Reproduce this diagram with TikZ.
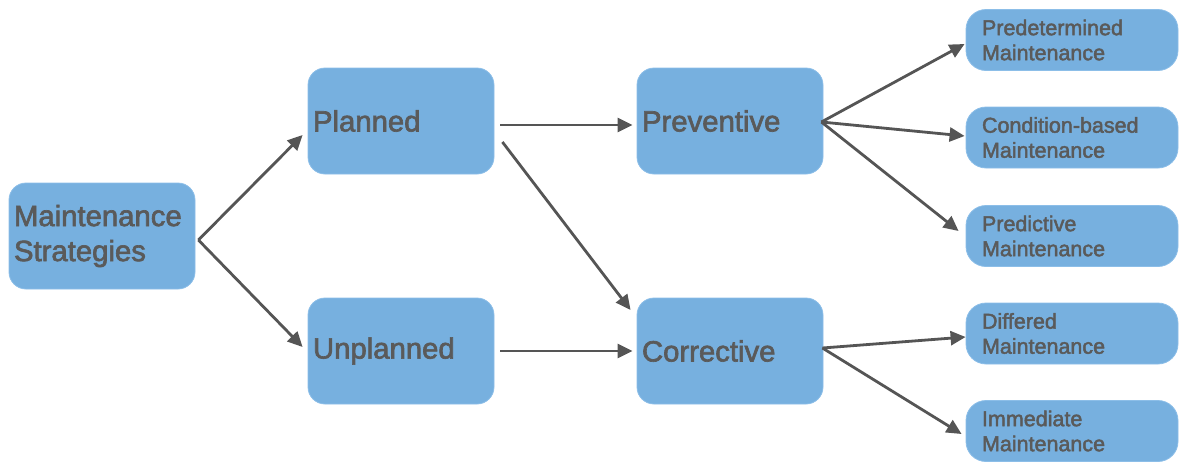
\documentclass[tikz,border=0pt]{standalone}
\usepackage{fontspec}
\setmainfont{Liberation Sans}
\newfontfamily\medfont{Liberation Sans}[RawFeature={embolden=2.2}]
\usetikzlibrary{arrows.meta}
\definecolor{boxfill}{RGB}{119,176,223}
\definecolor{boxedge}{RGB}{140,190,232}
\definecolor{txt}{RGB}{90,90,90}
\definecolor{arrcol}{RGB}{85,85,85}
\begin{document}
\begin{tikzpicture}[x=1pt,y=1pt,
  bigbox/.style={fill=boxfill, draw=boxedge, line width=0.8pt, rounded corners=17pt,
    text=txt, align=left, text width=176pt, inner xsep=5pt, inner ysep=0pt,
    minimum height=106pt, font=\medfont\fontsize{29.3}{35}\selectfont},
  smallbox/.style={fill=boxfill, draw=boxedge, line width=0.8pt, rounded corners=20pt,
    text=txt, align=left, text width=180pt, inner xsep=16pt, inner ysep=0pt,
    minimum height=61pt, font=\medfont\fontsize{21.5}{25}\selectfont},
  arr/.style={draw=arrcol, line width=2.8pt, -{Triangle[length=15pt,width=14pt]}}]
\useasboundingbox (0,0) rectangle (1179,-464);

\node[bigbox] (ms) at (102,-236) {Maintenance\\Strategies};
\node[bigbox] (planned) at (401,-121) {Planned};
\node[bigbox] (unplanned) at (401,-351) {Unplanned};
\node[bigbox] (preventive) at (730,-121) {Preventive};
\node[bigbox] (corrective) at (730,-351) {Corrective};

\node[smallbox] (pm) at (1072,-40) {Predetermined\\Maintenance};
\node[smallbox] (cb) at (1072,-137.5) {Condition-based\\Maintenance};
\node[smallbox] (pr) at (1072,-236) {Predictive\\Maintenance};
\node[smallbox] (dm) at (1072,-333.5) {Differed\\Maintenance};
\node[smallbox] (im) at (1072,-431) {Immediate\\Maintenance};

\draw[arr] ([xshift=3pt,yshift=-4pt]ms.east) -- ([xshift=-5pt,yshift=-14pt]planned.west);
\draw[arr] ([xshift=3pt,yshift=-4pt]ms.east) -- ([xshift=-5pt,yshift=4pt]unplanned.west);
\draw[arr] ([xshift=6pt,yshift=-4pt]planned.east) -- ([xshift=-4pt,yshift=-4pt]preventive.west);
\draw[arr] ([xshift=8pt,yshift=-21pt]planned.east) -- ([xshift=-6pt,yshift=41pt]corrective.west);
\draw[arr] ([xshift=6pt]unplanned.east) -- ([xshift=-4pt]corrective.west);

\draw[arr] ([xshift=-2pt,yshift=-1pt]preventive.east) -- ([xshift=-1pt,yshift=-4pt]pm.west);
\draw[arr] ([xshift=-2pt,yshift=-1pt]preventive.east) -- ([xshift=-1pt,yshift=1.5pt]cb.west);
\draw[arr] ([xshift=-2pt,yshift=-1pt]preventive.east) -- ([xshift=-7pt,yshift=5pt]pr.west);
\draw[arr] ([xshift=-1pt,yshift=3pt]corrective.east) -- ([yshift=-3.5pt]dm.west);
\draw[arr] ([xshift=-1pt,yshift=3pt]corrective.east) -- ([xshift=-4pt,yshift=-3pt]im.west);
\end{tikzpicture}
\end{document}
